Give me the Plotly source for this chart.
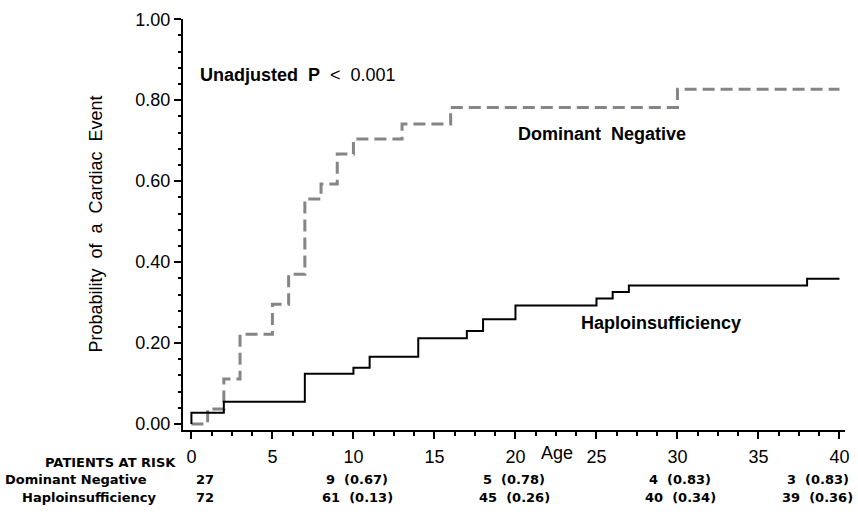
import plotly.graph_objects as go

# ---- data ----
dn_age = [0, 1, 2, 3, 5, 6, 7, 8, 9, 10, 13, 16, 30, 40]
dn_prob = [0, 0.037, 0.111, 0.222, 0.296, 0.370, 0.556, 0.593, 0.667, 0.704, 0.741, 0.782, 0.827, 0.827]

hi_age = [0, 0, 2, 7, 10, 11, 14, 17, 18, 20, 25, 26, 27, 38, 40]
hi_prob = [0, 0.028, 0.055, 0.124, 0.139, 0.166, 0.212, 0.230, 0.259, 0.293, 0.310, 0.326, 0.342, 0.359, 0.359]

risk_ages = [0, 10, 20, 30, 40]
risk_dn = ["27", "9  (0.67)", "5  (0.78)", "4  (0.83)", "3  (0.83)"]
risk_hi = ["72", "61  (0.13)", "45  (0.26)", "40  (0.34)", "39  (0.36)"]

x_ticks = [0, 5, 10, 15, 20, 25, 30, 35, 40]
y_ticks = [0.0, 0.2, 0.4, 0.6, 0.8, 1.0]

FONT = "Liberation Sans, Arial, sans-serif"

fig = go.Figure()
fig.add_trace(go.Scatter(x=dn_age, y=dn_prob, mode="lines", line_shape="hv",
                         line=dict(color="#858585", width=3, dash="12px,6px"),
                         showlegend=False, hoverinfo="skip"))
fig.add_trace(go.Scatter(x=hi_age, y=hi_prob, mode="lines", line_shape="hv",
                         line=dict(color="#000000", width=2),
                         showlegend=False, hoverinfo="skip"))

L, T, R, B = 183, 15, 858 - 849, 520 - 430

fig.update_layout(
    width=858, height=520,
    margin=dict(l=L, r=R, t=T, b=B, pad=0),
    paper_bgcolor="white", plot_bgcolor="white",
    font=dict(family=FONT, color="black", size=18),
    xaxis=dict(range=[-0.52, 40.34], tickvals=x_ticks, ticktext=[str(v) for v in x_ticks],
               showgrid=False, zeroline=False, showline=True, linecolor="black", linewidth=2,
               ticks="outside", ticklen=7, tickwidth=2, tickcolor="black",
               ticklabelstandoff=2,
               tickfont=dict(size=18, family=FONT),
               minor=dict(dtick=1.25, tick0=0, ticks="outside", ticklen=4, tickwidth=2,
                          tickcolor="black", showgrid=False)),
    yaxis=dict(range=[-0.0147, 1.0005], tickvals=y_ticks, ticktext=[f"{v:.2f}" for v in y_ticks],
               showgrid=False, zeroline=False, showline=True, linecolor="black", linewidth=2,
               ticks="outside", ticklen=7, tickwidth=2, tickcolor="black",
               tickfont=dict(size=18, family=FONT),
               minor=dict(dtick=0.04, tick0=0, ticks="outside", ticklen=3, tickwidth=2,
                          tickcolor="black", showgrid=False)),
)

ann = []
# y axis title
ann.append(dict(text="Probability  of  a  Cardiac  Event", textangle=-90,
                xref="paper", yref="paper", x=0, y=0.5, xshift=95 - L,
                xanchor="center", yanchor="middle", showarrow=False,
                font=dict(size=18, family=FONT)))
# x axis title
ann.append(dict(text="Age", xref="x", yref="paper", x=22.55, y=0, yshift=-23,
                xanchor="center", yanchor="middle", showarrow=False,
                font=dict(size=18, family=FONT)))
# in-plot labels
ann.append(dict(text="<b>Unadjusted  P</b>  <  0.001", xref="x", yref="y", x=0.4, y=0.863,
                xanchor="left", yanchor="middle", showarrow=False,
                font=dict(size=18, family=FONT)))
ann.append(dict(text="<b>Dominant  Negative</b>", xref="x", yref="y", x=25.34, y=0.717,
                xanchor="center", yanchor="middle", showarrow=False,
                font=dict(size=18, family=FONT)))
ann.append(dict(text="<b>Haploinsufficiency</b>", xref="x", yref="y", x=28.99, y=0.25,
                xanchor="center", yanchor="middle", showarrow=False,
                font=dict(size=18, family=FONT)))
# risk table
TF = dict(size=13, family="DejaVu Sans, sans-serif")
ann.append(dict(text="<b>PATIENTS AT RISK</b>", xref="paper", yref="paper", x=0, y=0,
                xshift=110.5 - L, yshift=430 - 462, xanchor="center", yanchor="middle",
                showarrow=False, font=TF))
ann.append(dict(text="<b>Dominant Negative</b>", xref="paper", yref="paper", x=0, y=0,
                xshift=75.5 - L, yshift=430 - 479, xanchor="center", yanchor="middle",
                showarrow=False, font=TF))
ann.append(dict(text="<b>Haploinsufficiency</b>", xref="paper", yref="paper", x=0, y=0,
                xshift=89 - L, yshift=430 - 497, xanchor="center", yanchor="middle",
                showarrow=False, font=TF))
shifts = [13.5, 4, -1, 3, -21.5]
for a, d, h, s in zip(risk_ages, risk_dn, risk_hi, shifts):
    ann.append(dict(text=f"<b>{d}</b>", xref="x", yref="paper", x=a, y=0, xshift=s,
                    yshift=430 - 479, xanchor="center", yanchor="middle",
                    showarrow=False, font=TF))
    ann.append(dict(text=f"<b>{h}</b>", xref="x", yref="paper", x=a, y=0, xshift=s,
                    yshift=430 - 497, xanchor="center", yanchor="middle",
                    showarrow=False, font=TF))
fig.update_layout(annotations=ann)

fig.write_html("out.html")
